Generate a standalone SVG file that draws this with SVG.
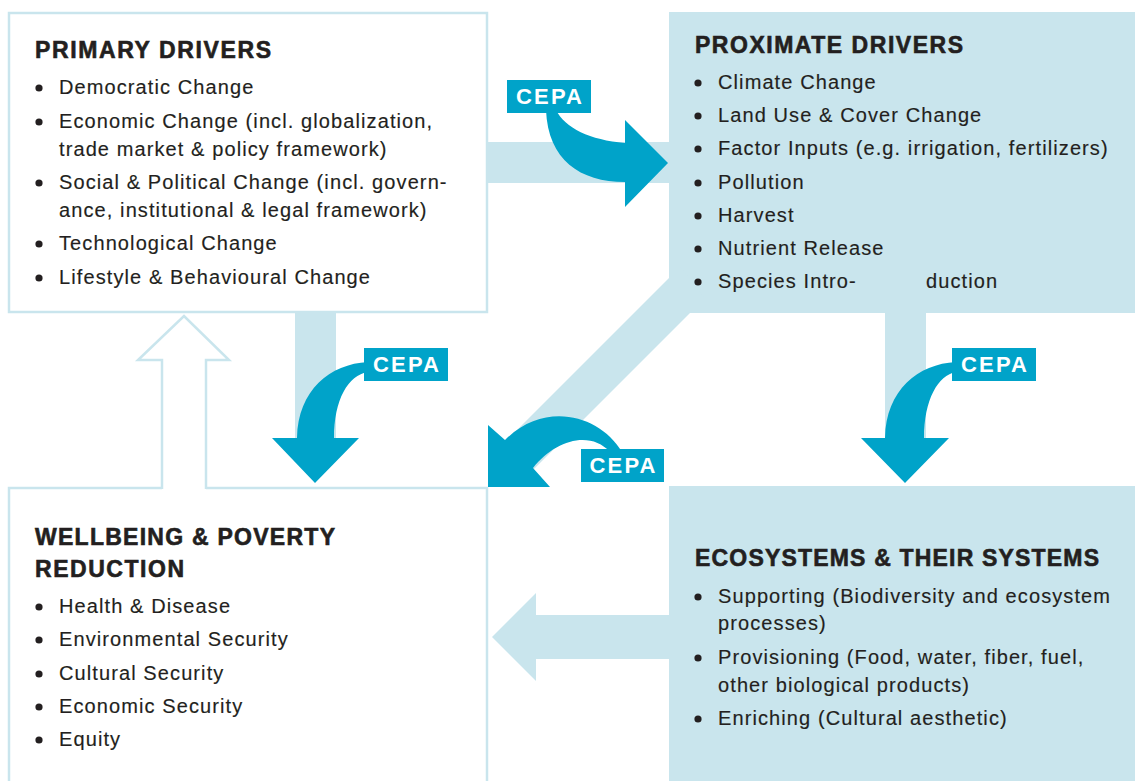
<svg xmlns="http://www.w3.org/2000/svg" width="1135" height="781" viewBox="0 0 1135 781">
<style>
.outline{fill:#ffffff;stroke:#c9e5ed;stroke-width:2.5}
.lb{fill:#c9e5ed}
.db{fill:#00a3c9}
.title{font-family:"Liberation Sans",Arial,sans-serif;font-weight:bold;font-size:23px;fill:#231f20;stroke:#231f20;stroke-width:0.6}
.item{font-family:"Liberation Sans",Arial,sans-serif;font-size:20px;letter-spacing:1.1px;fill:#231f20;stroke:#231f20;stroke-width:0.15}
.bul{fill:#231f20}
.cepa{font-family:"Liberation Sans",Arial,sans-serif;font-weight:bold;font-size:22px;fill:#ffffff;text-anchor:middle}
</style>
<rect width="1135" height="781" fill="#ffffff"/>

<g id="node-primary">
  <rect class="outline" x="9" y="13" width="478" height="299"/>
  <text class="title" x="35" y="58" textLength="236" lengthAdjust="spacing">PRIMARY DRIVERS</text>
  <circle class="bul" cx="39" cy="88" r="3.6"/>
  <text class="item" x="59" y="94">Democratic Change</text>
  <circle class="bul" cx="39" cy="122" r="3.6"/>
  <text class="item" x="59" y="128">Economic Change (incl. globalization,</text>
  <text class="item" x="59" y="156">trade market &amp; policy framework)</text>
  <circle class="bul" cx="39" cy="183" r="3.6"/>
  <text class="item" x="59" y="189">Social &amp; Political Change (incl. govern-</text>
  <text class="item" x="59" y="217">ance, institutional &amp; legal framework)</text>
  <circle class="bul" cx="39" cy="244" r="3.6"/>
  <text class="item" x="59" y="250">Technological Change</text>
  <circle class="bul" cx="39" cy="278" r="3.6"/>
  <text class="item" x="59" y="284">Lifestyle &amp; Behavioural Change</text>
</g>

<g id="node-proximate">
  <rect class="lb" x="669" y="12" width="466" height="301"/>
  <text class="title" x="695" y="53" textLength="268" lengthAdjust="spacing">PROXIMATE DRIVERS</text>
  <circle class="bul" cx="698" cy="83" r="3.6"/>
  <text class="item" x="718" y="89">Climate Change</text>
  <circle class="bul" cx="698" cy="116" r="3.6"/>
  <text class="item" x="718" y="122">Land Use &amp; Cover Change</text>
  <circle class="bul" cx="698" cy="149" r="3.6"/>
  <text class="item" x="718" y="155">Factor Inputs (e.g. irrigation, fertilizers)</text>
  <circle class="bul" cx="698" cy="183" r="3.6"/>
  <text class="item" x="718" y="189">Pollution</text>
  <circle class="bul" cx="698" cy="216" r="3.6"/>
  <text class="item" x="718" y="222">Harvest</text>
  <circle class="bul" cx="698" cy="249" r="3.6"/>
  <text class="item" x="718" y="255">Nutrient Release</text>
  <circle class="bul" cx="698" cy="282" r="3.6"/>
  <text class="item" x="718" y="288">Species Intro-</text>
  <text class="item" x="926" y="288">duction</text>
</g>

<g id="node-wellbeing">
  <rect x="9" y="488" width="478" height="300" fill="#ffffff"/>
  <path d="M162,488 H9 V790 M206,488 H487 V790" fill="none" stroke="#c9e5ed" stroke-width="2.5"/>
  <text class="title" x="35" y="545" textLength="300" lengthAdjust="spacing">WELLBEING &amp; POVERTY</text>
  <text class="title" x="35" y="577" textLength="149" lengthAdjust="spacing">REDUCTION</text>
  <circle class="bul" cx="39" cy="607" r="3.6"/>
  <text class="item" x="59" y="613">Health &amp; Disease</text>
  <circle class="bul" cx="39" cy="640" r="3.6"/>
  <text class="item" x="59" y="646">Environmental Security</text>
  <circle class="bul" cx="39" cy="674" r="3.6"/>
  <text class="item" x="59" y="680">Cultural Security</text>
  <circle class="bul" cx="39" cy="707" r="3.6"/>
  <text class="item" x="59" y="713">Economic Security</text>
  <circle class="bul" cx="39" cy="740" r="3.6"/>
  <text class="item" x="59" y="746">Equity</text>
</g>

<g id="node-ecosystems">
  <rect class="lb" x="669" y="486" width="466" height="300"/>
  <text class="title" x="695" y="566" textLength="404" lengthAdjust="spacing">ECOSYSTEMS &amp; THEIR SYSTEMS</text>
  <circle class="bul" cx="698" cy="597" r="3.6"/>
  <text class="item" x="718" y="603">Supporting (Biodiversity and ecosystem</text>
  <text class="item" x="718" y="630">processes)</text>
  <circle class="bul" cx="698" cy="658" r="3.6"/>
  <text class="item" x="718" y="664">Provisioning (Food, water, fiber, fuel,</text>
  <text class="item" x="718" y="692">other biological products)</text>
  <circle class="bul" cx="698" cy="719" r="3.6"/>
  <text class="item" x="718" y="725">Enriching (Cultural aesthetic)</text>
</g>

<g id="connectors">
  <!-- light bands -->
  <rect class="lb" x="488" y="142" width="182" height="41"/>
  <rect class="lb" x="295" y="313" width="41" height="130"/>
  <rect class="lb" x="885" y="313" width="41" height="130"/>
  <polygon class="lb" points="680,267 705,298 528,475 500,447"/>
  <polygon class="lb" points="670,615 536,615 536,593 492,637 536,681 536,659 670,659"/>
  <!-- hollow up arrow (open at the bottom) -->
  <polyline points="162,489 162,360 138,360 184,316 229,360 206,360 206,489" fill="#ffffff" stroke="#c9e5ed" stroke-width="2.5"/>
  <!-- CEPA arrows -->
  <path class="db" d="M546,110 C548,160 580,182 625,182 L625,207 L668,163 L625,120 L625,143 C590,140 565,128 556,110 Z"/>
  <path class="db" d="M368,362 C330,364 298,390 297,438 L272,438 L315,483 L359,438 L334,438 C334,400 348,375 368,372 Z"/>
  <path class="db" d="M956,362 C918,364 886,390 885,438 L861,438 L905,483 L949,438 L924,438 C924,400 938,375 956,372 Z"/>
  <path class="db" d="M622,452 C600,415 545,400 505,440 L488,425 L488,487 L550,487 L533,468 C555,440 590,430 610,452 Z"/>
  <!-- CEPA labels -->
  <rect class="db" x="507" y="80" width="84" height="33"/>
  <text class="cepa" x="549" y="104" textLength="66" lengthAdjust="spacing">CEPA</text>
  <rect class="db" x="364" y="348" width="84" height="33"/>
  <text class="cepa" x="406" y="372" textLength="66" lengthAdjust="spacing">CEPA</text>
  <rect class="db" x="952" y="348" width="84" height="33"/>
  <text class="cepa" x="994" y="372" textLength="66" lengthAdjust="spacing">CEPA</text>
  <rect class="db" x="581" y="449" width="83" height="33"/>
  <text class="cepa" x="622.5" y="473" textLength="66" lengthAdjust="spacing">CEPA</text>
</g>
</svg>
